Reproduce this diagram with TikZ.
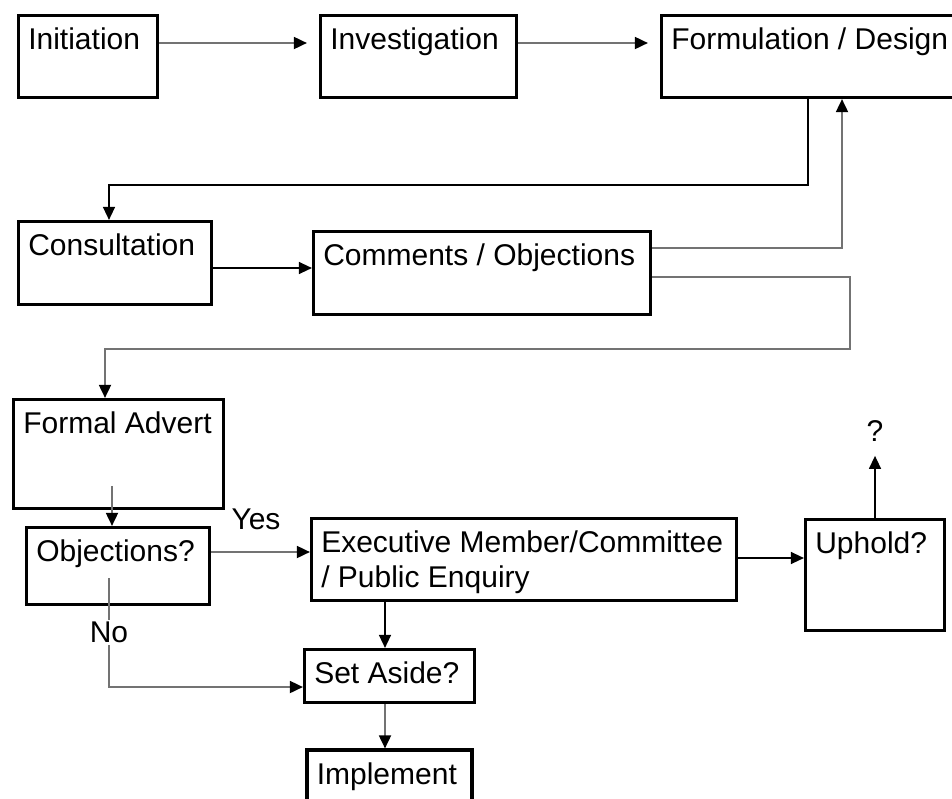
\documentclass[tikz,border=0pt]{standalone}
\usepackage{fontspec}
\setmainfont{Liberation Sans}
\usetikzlibrary{arrows.meta}

\begin{document}
\begin{tikzpicture}[x=0.5pt, y=-0.5pt,
  box/.style={draw, line width=1.6pt, inner sep=0pt},
  txt/.style={anchor=north west, inner sep=0pt, xshift=5.5pt, yshift=-6.75pt, align=left, font=\fontsize{15}{17.5}\selectfont},
  lbl/.style={inner sep=0pt, font=\fontsize{15}{17.5}\selectfont},
  link/.style={line width=0.7pt, -{Triangle[length=6.5pt, width=6pt]}},
  glink/.style={line width=0.9pt, black!55, -{Triangle[length=6.5pt, width=6pt, color=black]}}]
\useasboundingbox (0,0) rectangle (952,798);
\node[box, minimum width=69.5pt, minimum height=41pt, label={[txt]north west:Initiation}] (init) at (88,56.5) {};
\node[box, minimum width=98pt, minimum height=41pt, label={[txt]north west:Investigation}] (inv) at (418.5,56.5) {};
\node[box, minimum width=151.5pt, minimum height=41pt, label={[txt]north west:Formulation / Design}] (form) at (813,56.5) {};
\node[box, minimum width=96.5pt, minimum height=41.5pt, label={[txt]north west:Consultation}] (cons) at (115,263) {};
\node[box, minimum width=168.5pt, minimum height=41.5pt, label={[txt]north west:Comments / Objections}] (comm) at (482,273) {};
\node[box, minimum width=105pt, minimum height=54.5pt, label={[txt]north west:Formal Advert}] (adv) at (118.5,454) {};
\node[box, minimum width=91.5pt, minimum height=38.5pt, label={[txt]north west:Objections?}] (obj) at (118,566) {};
\node[box, minimum width=212.5pt, minimum height=41pt, label={[txt]north west:{Executive Member/Committee\\/ Public Enquiry}}] (exec) at (524,559.5) {};
\node[box, minimum width=69.5pt, minimum height=55.5pt, label={[txt]north west:Uphold?}] (up) at (875,575) {};
\node[box, minimum width=85pt, minimum height=26.5pt, label={[txt]north west:Set Aside?}] (aside) at (389.5,676) {};
\node[box, minimum width=82.5pt, minimum height=32pt, label={[txt]north west:Implement}] (impl) at (389.5,782) {};
\node[lbl] (yes) at (256,519) {Yes};
\node[lbl] (q) at (875,431) {?};

\draw[glink, shorten >=6pt] ([yshift=6.75pt]init.east) -- ([yshift=6.75pt]inv.west);
\draw[glink, shorten >=6pt] ([yshift=6.75pt]inv.east) -- ([yshift=6.75pt]form.west);
\draw[link] ([xshift=-2.5pt]form.south) -- ++(0,86) -| ([xshift=-3pt]cons.north);
\draw[link] ([yshift=-2.5pt]cons.east) -- ([yshift=2.5pt]comm.west);
\draw[glink] ([yshift=12.5pt]comm.east) -| ([xshift=14.5pt]form.south);
\draw[glink] ([yshift=-2pt]comm.east) -- ++(197.5,0) -- ++(0,72) -| ([xshift=-6.75pt]adv.north);
\draw[glink] ([xshift=-3pt,yshift=20pt]obj.north) -- ([xshift=-3pt]obj.north);
\draw[glink] ([yshift=7pt]obj.east) -- ([yshift=3.75pt]exec.west);
\draw[glink] ([xshift=-4.5pt,yshift=14pt]obj.south) |- node[pos=0.25, fill=white, inner sep=1pt, font=\fontsize{15}{17.5}\selectfont, text=black] (no) {No} ([yshift=-5.5pt]aside.west);
\draw[link] ([yshift=0.75pt]exec.east) -- ([yshift=8.5pt]up.west);
\draw[link] (up.north) -- ([yshift=-7pt]q.south);
\draw[link] ([xshift=-2.25pt]aside.north |- exec.south) -- ([xshift=-2.25pt]aside.north);
\draw[glink] ([xshift=-2.25pt]aside.south) -- ([xshift=-2.25pt]impl.north);
\end{tikzpicture}
\end{document}
